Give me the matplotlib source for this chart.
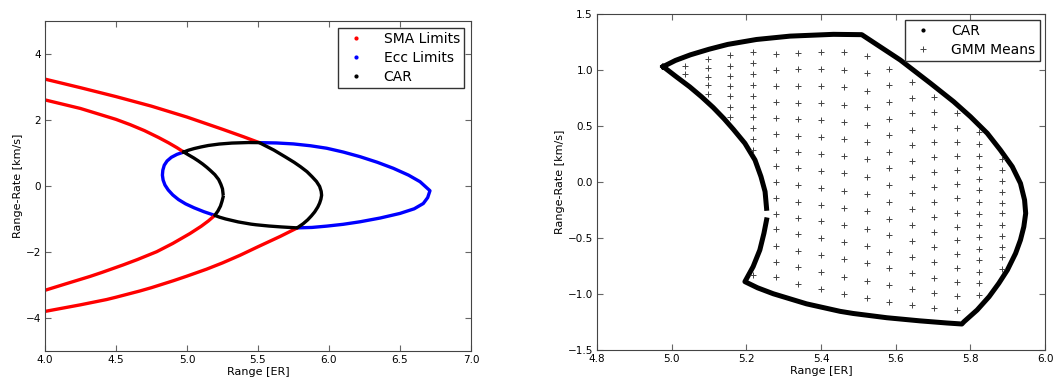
import numpy as np
import matplotlib
matplotlib.use('Agg')
import matplotlib.pyplot as plt

# CAR boundary (range [ER], range-rate [km/s]), traced clockwise from the left tip
car_top_x = [4.977, 5.010, 5.050, 5.100, 5.150, 5.227, 5.317, 5.433, 5.509]
car_top_y = [1.030, 1.085, 1.135, 1.185, 1.228, 1.272, 1.302, 1.318, 1.315]
car_right_x = [5.612, 5.693, 5.755, 5.800, 5.845, 5.880, 5.912, 5.934, 5.945, 5.948,
               5.943, 5.934, 5.921, 5.899, 5.876, 5.850, 5.818, 5.783, 5.777]
car_right_y = [1.089, 0.881, 0.717, 0.583, 0.435, 0.286, 0.137, -0.012, -0.161, -0.280,
               -0.400, -0.518, -0.637, -0.786, -0.905, -1.024, -1.143, -1.247, -1.268]
car_bottom_x = [5.737, 5.665, 5.576, 5.486, 5.451, 5.361, 5.272, 5.230, 5.196]
car_bottom_y = [-1.259, -1.240, -1.212, -1.174, -1.155, -1.088, -0.998, -0.945, -0.890]
car_left_x = [5.218, 5.236, 5.247, 5.254, np.nan,
              5.254, 5.250, 5.239, 5.223, 5.196, 5.165, 5.140, 5.111, 5.080, 5.048, 5.010, 4.977]
car_left_y = [-0.756, -0.607, -0.458, -0.339, np.nan,
              -0.235, -0.086, 0.048, 0.196, 0.345, 0.470, 0.565, 0.665, 0.760, 0.850, 0.945, 1.030]
car_x = car_top_x + car_right_x + car_bottom_x + car_left_x
car_y = car_top_y + car_right_y + car_bottom_y + car_left_y

# SMA limit curves
sma_outer_up_x = [4.0, 4.25, 4.5, 4.75, 5.0, 5.25, 5.4, 5.509]
sma_outer_up_y = [3.24, 2.98, 2.71, 2.42, 2.09, 1.72, 1.49, 1.315]
sma_outer_lo_x = [5.777, 5.655, 5.5, 5.373, 5.25, 5.138, 5.0, 4.904, 4.75, 4.669, 4.5, 4.434, 4.25, 4.0]
sma_outer_lo_y = [-1.268, -1.53, -1.84, -2.10, -2.33, -2.52, -2.73, -2.87, -3.08, -3.18, -3.37, -3.44, -3.60, -3.80]
sma_inner_up_x = [4.0, 4.25, 4.5, 4.6, 4.7, 4.8, 4.87, 4.93, 4.977]
sma_inner_up_y = [2.61, 2.35, 2.02, 1.86, 1.68, 1.47, 1.31, 1.16, 1.030]
sma_inner_lo_x = [5.196, 5.15, 5.1, 5.021, 4.9, 4.787, 4.65, 4.551, 4.4, 4.317, 4.15, 4.0]
sma_inner_lo_y = [-0.890, -1.06, -1.22, -1.44, -1.74, -1.99, -2.23, -2.39, -2.62, -2.74, -2.96, -3.16]

# eccentricity limit: left arc and right arc (the rest is the CAR top/bottom)
ecc_left_x = [4.977, 4.930, 4.890, 4.860, 4.840, 4.830, 4.827, 4.832, 4.845, 4.868,
              4.900, 4.940, 4.990, 5.050, 5.120, 5.196]
ecc_left_y = [1.030, 0.960, 0.870, 0.760, 0.630, 0.480, 0.330, 0.180, 0.030, -0.120,
              -0.270, -0.410, -0.540, -0.660, -0.780, -0.890]
ecc_right_x = [5.777, 5.880, 5.984, 6.100, 6.218, 6.360, 6.500, 6.600, 6.664, 6.695, 6.711,
               6.641, 6.560, 6.453, 6.340, 6.218, 6.100, 5.984, 5.870, 5.749, 5.630, 5.509]
ecc_right_y = [-1.268, -1.255, -1.215, -1.160, -1.084, -0.970, -0.830, -0.690, -0.530, -0.350, -0.142,
               0.131, 0.330, 0.537, 0.720, 0.890, 1.030, 1.145, 1.220, 1.276, 1.305, 1.315]

# GMM means, one column per range value
gmm_cols_x = [5.035, 5.096, 5.157, 5.218, 5.280, 5.339, 5.400, 5.461, 5.522,
              5.581, 5.644, 5.703, 5.763, 5.824, 5.885]
gmm_cols_y = [
    [1.039, 0.961],
    [1.101, 1.021, 0.940, 0.863, 0.786],
    [1.137, 1.039, 0.949, 0.854, 0.765, 0.673, 0.577],
    [1.161, 1.060, 0.967, 0.869, 0.768, 0.673, 0.577, 0.479, 0.384, 0.286, -0.830],
    [1.143, 1.0, 0.857, 0.714, 0.571, 0.429, 0.286, 0.143, 0.003, -0.140, -0.286, -0.423, -0.568, -0.711, -0.851],
    [1.155, 1.006, 0.857, 0.708, 0.560, 0.414, 0.265, 0.122, -0.030, -0.176, -0.324, -0.467, -0.616, -0.762, -0.911],
    [1.158, 1.006, 0.854, 0.702, 0.551, 0.399, 0.247, 0.098, -0.054, -0.202, -0.348, -0.503, -0.652, -0.807, -0.958],
    [1.158, 1.0, 0.845, 0.690, 0.539, 0.384, 0.232, 0.077, -0.077, -0.229, -0.384, -0.539, -0.690, -0.845, -1.0],
    [1.128, 0.976, 0.815, 0.667, 0.509, 0.354, 0.202, 0.048, -0.107, -0.259, -0.417, -0.571, -0.726, -0.884, -1.039],
    [1.009, 0.863, 0.717, 0.565, 0.417, 0.271, 0.122, -0.027, -0.176, -0.327, -0.476, -0.622, -0.771, -0.920, -1.068],
    [0.896, 0.747, 0.613, 0.464, 0.327, 0.185, 0.042, -0.101, -0.244, -0.387, -0.530, -0.667, -0.815, -0.958, -1.101],
    [0.762, 0.622, 0.494, 0.360, 0.220, 0.092, -0.048, -0.176, -0.315, -0.449, -0.583, -0.717, -0.854, -0.988, -1.125],
    [0.613, 0.485, 0.360, 0.232, 0.107, -0.018, -0.146, -0.274, -0.399, -0.518, -0.643, -0.771, -0.896, -1.018, -1.143],
    [0.443, 0.339, 0.235, 0.131, 0.027, -0.074, -0.179, -0.286, -0.387, -0.494, -0.595, -0.699, -0.804, -0.905, -1.009],
    [0.202, 0.107, 0.009, -0.086, -0.185, -0.280, -0.381, -0.479, -0.577, -0.673, -0.774],
]
gmm_x = [x for x, col in zip(gmm_cols_x, gmm_cols_y) for _ in col]
gmm_y = [y for col in gmm_cols_y for y in col]

plt.rcParams['font.family'] = 'DejaVu Sans'
plt.rcParams['xtick.direction'] = 'in'
plt.rcParams['ytick.direction'] = 'in'
plt.rcParams['xtick.top'] = True
plt.rcParams['ytick.right'] = True
plt.rcParams['axes.edgecolor'] = '#444444'

fig = plt.figure(figsize=(10.53, 3.81), dpi=100)
ax1 = fig.add_axes([0.0427, 0.0787, 0.4046, 0.8661])
ax2 = fig.add_axes([0.567, 0.0814, 0.4255, 0.882])

lw = 2.4
# left: limits and CAR
ax1.plot(ecc_left_x, ecc_left_y, color='#0000ff', linewidth=lw, solid_capstyle='round')
ax1.plot(ecc_right_x, ecc_right_y, color='#0000ff', linewidth=lw, solid_capstyle='round')
for xs, ys in [(sma_outer_up_x, sma_outer_up_y), (sma_outer_lo_x, sma_outer_lo_y),
               (sma_inner_up_x, sma_inner_up_y), (sma_inner_lo_x, sma_inner_lo_y)]:
    ax1.plot(xs, ys, color='#ff0000', linewidth=lw, solid_capstyle='round')
ax1.plot(car_x, car_y, color='black', linewidth=lw, solid_joinstyle='round')
ax1.plot([], [], '.', color='#ff0000', markersize=4, label='SMA Limits')
ax1.plot([], [], '.', color='#0000ff', markersize=4, label='Ecc Limits')
ax1.plot([], [], '.', color='black', markersize=4, label='CAR')
ax1.set_xlim(4.0, 7.0)
ax1.set_ylim(-5, 5)
ax1.set_xticks(np.arange(4.0, 7.01, 0.5))
ax1.set_yticks([-4, -2, 0, 2, 4])
ax1.set_xlabel('Range [ER]', fontsize=8, labelpad=1)
ax1.set_ylabel('Range-Rate [km/s]', fontsize=8, labelpad=2)
ax1.tick_params(labelsize=7.5, length=4, color='#666666', pad=3)
leg1 = ax1.legend(loc='upper right', fontsize=10, numpoints=1, fancybox=False,
                  handlelength=2.0, handletextpad=1.0, borderaxespad=0.5,
                  labelspacing=0.35, borderpad=0.3, framealpha=1)
leg1.get_frame().set_edgecolor('#333333')

# right: CAR zoom with GMM means
ax2.plot(car_x, car_y, color='black', linewidth=3.6, solid_joinstyle='round')
ax2.plot(gmm_x, gmm_y, '+', color='#444444', markersize=5, markeredgewidth=0.7)
ax2.plot([], [], '.', color='black', markersize=4, label='CAR')
ax2.plot([], [], '+', color='#444444', markersize=5, markeredgewidth=0.7, label='GMM Means')
ax2.set_xlim(4.8, 6.0)
ax2.set_ylim(-1.5, 1.5)
ax2.set_xticks(np.arange(4.8, 6.01, 0.2))
ax2.set_yticks(np.arange(-1.5, 1.51, 0.5))
ax2.set_xlabel('Range [ER]', fontsize=8, labelpad=1)
ax2.set_ylabel('Range-Rate [km/s]', fontsize=8, labelpad=2)
ax2.tick_params(labelsize=7.5, length=4, color='#666666', pad=3)
leg2 = ax2.legend(loc='upper right', fontsize=10, numpoints=1, fancybox=False,
                  handlelength=2.0, handletextpad=1.0, borderaxespad=0.4,
                  labelspacing=0.35, borderpad=0.3, framealpha=1)
leg2.get_frame().set_edgecolor('#333333')

fig.savefig('out.png', dpi=100)
